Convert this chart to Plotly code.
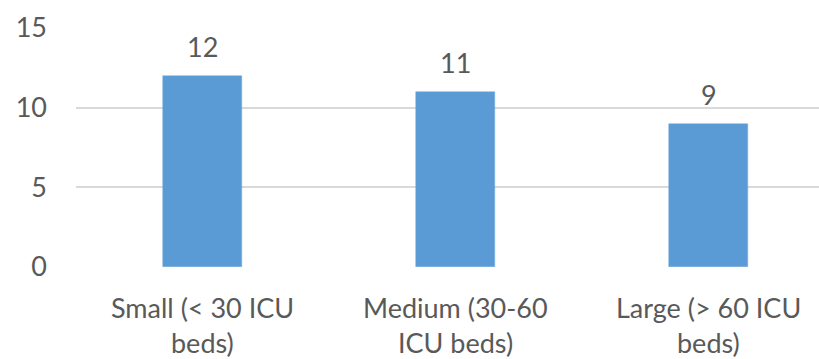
import plotly.graph_objects as go

categories = ["Small (< 30 ICU<br>beds)", "Medium (30-60<br>ICU beds)", "Large (> 60 ICU<br>beds)"]
values = [12, 11, 9]
y_ticks = [0, 5, 10, 15]

text_color = "#595959"
font_family = "Lato, Carlito, Calibri, sans-serif"
font_size = 27

fig = go.Figure()
fig.add_trace(go.Bar(
    x=list(range(len(categories))),
    y=values,
    width=0.312,
    marker=dict(color="#5B9BD5", line=dict(color="#6FA8DC", width=0.5)),
    cliponaxis=False,
))

# value labels above each bar
for i, v in enumerate(values):
    fig.add_annotation(
        x=i, y=v, xref="x", yref="y",
        text=str(v), showarrow=False, yshift=29,
        font=dict(size=font_size, color=text_color, family=font_family),
    )

# two-line category labels below the axis
for i, cat in enumerate(categories):
    for j, line in enumerate(cat.split("<br>")):
        fig.add_annotation(
            x=i, y=0, xref="x", yref="y",
            text=line, showarrow=False,
            yshift=-40 - 35 * j,
            font=dict(size=font_size, color=text_color, family=font_family),
        )

fig.update_layout(
    width=819, height=359,
    margin=dict(l=76, r=0, t=28, b=92),
    plot_bgcolor="white", paper_bgcolor="white",
    showlegend=False,
    bargap=0,
)
fig.update_xaxes(
    range=[-0.5, 2.435],
    showticklabels=False, showgrid=False, zeroline=False,
    showline=False,
)
fig.update_yaxes(
    range=[0, 15], tickvals=y_ticks,
    showgrid=True, gridcolor="#D9D9D9", gridwidth=1.5,
    zeroline=False, showline=False,
    tickfont=dict(size=font_size, color=text_color, family=font_family),
    ticklabelstandoff=28,
)

fig.write_html("out.html")
